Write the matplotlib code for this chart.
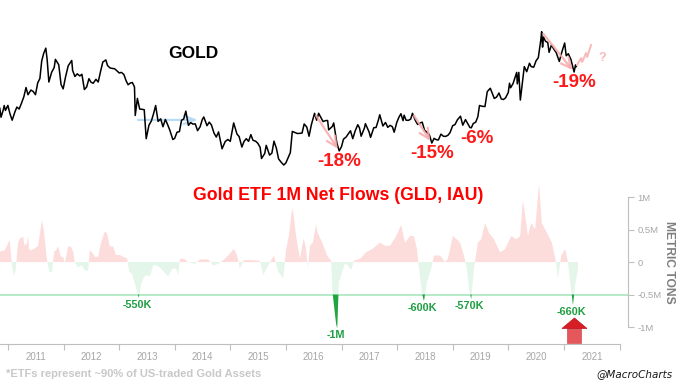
import numpy as np
import pandas as pd
import matplotlib
matplotlib.use("Agg")
import matplotlib.pyplot as plt
import matplotlib.transforms as mtransforms
from matplotlib.patches import Polygon

plt.rcParams['font.family'] = ['Liberation Sans', 'DejaVu Sans']

# ---- gold price (semi-monthly closes + swing points), USD/oz ----
gold_dates = [
    "2010-11-08", "2010-11-16", "2010-11-30", "2010-12-07", "2010-12-15", "2010-12-31",
    "2011-01-14", "2011-01-28", "2011-02-15", "2011-02-28", "2011-03-15", "2011-03-31",
    "2011-04-15", "2011-04-29", "2011-05-12", "2011-05-31", "2011-06-15", "2011-06-30",
    "2011-07-15", "2011-07-29", "2011-08-10", "2011-08-23", "2011-09-06", "2011-09-15",
    "2011-09-26", "2011-10-14", "2011-10-31", "2011-11-08", "2011-11-30", "2011-12-15",
    "2011-12-29", "2012-01-13", "2012-01-31", "2012-02-23", "2012-02-29", "2012-03-15",
    "2012-03-30", "2012-04-16", "2012-04-30", "2012-05-16", "2012-05-31", "2012-06-15",
    "2012-06-29", "2012-07-13", "2012-07-31", "2012-08-15", "2012-08-31", "2012-09-14",
    "2012-10-04", "2012-10-15", "2012-10-31", "2012-11-15", "2012-11-30", "2012-12-14",
    "2012-12-31", "2013-01-15", "2013-01-31", "2013-02-15", "2013-02-28", "2013-03-15",
    "2013-03-28", "2013-04-11", "2013-04-16", "2013-04-30", "2013-05-15", "2013-05-31",
    "2013-06-14", "2013-06-27", "2013-07-15", "2013-07-31", "2013-08-15", "2013-08-28",
    "2013-09-13", "2013-09-30", "2013-10-15", "2013-10-31", "2013-11-15", "2013-11-29",
    "2013-12-19", "2013-12-31", "2014-01-15", "2014-01-31", "2014-02-14", "2014-02-28",
    "2014-03-14", "2014-03-31", "2014-04-15", "2014-04-30", "2014-05-15", "2014-05-30",
    "2014-06-16", "2014-06-30", "2014-07-10", "2014-07-31", "2014-08-15", "2014-08-29",
    "2014-09-15", "2014-09-30", "2014-10-15", "2014-10-31", "2014-11-07", "2014-11-28",
    "2014-12-15", "2014-12-31", "2015-01-15", "2015-01-22", "2015-02-13", "2015-02-27",
    "2015-03-17", "2015-03-31", "2015-04-15", "2015-04-30", "2015-05-15", "2015-05-29",
    "2015-06-15", "2015-06-30", "2015-07-15", "2015-07-24", "2015-08-14", "2015-08-24",
    "2015-09-15", "2015-09-30", "2015-10-14", "2015-10-30", "2015-11-13", "2015-11-30",
    "2015-12-17", "2015-12-31", "2016-01-15", "2016-01-29", "2016-02-11", "2016-02-29",
    "2016-03-15", "2016-03-31", "2016-04-15", "2016-04-29", "2016-05-16", "2016-05-31",
    "2016-06-15", "2016-06-24", "2016-07-06", "2016-07-20", "2016-08-02", "2016-08-31",
    "2016-09-15", "2016-09-30", "2016-10-07", "2016-10-31", "2016-11-09", "2016-11-30",
    "2016-12-15", "2016-12-30", "2017-01-13", "2017-01-31", "2017-02-15", "2017-02-28",
    "2017-03-15", "2017-03-31", "2017-04-17", "2017-04-28", "2017-05-09", "2017-05-31",
    "2017-06-06", "2017-06-30", "2017-07-10", "2017-07-31", "2017-08-15", "2017-08-31",
    "2017-09-08", "2017-09-29", "2017-10-16", "2017-10-31", "2017-11-15", "2017-11-30",
    "2017-12-12", "2017-12-29", "2018-01-12", "2018-01-25", "2018-02-08", "2018-02-15",
    "2018-02-28", "2018-03-15", "2018-03-30", "2018-04-11", "2018-04-30", "2018-05-15",
    "2018-05-31", "2018-06-14", "2018-06-29", "2018-07-13", "2018-07-31", "2018-08-16",
    "2018-08-31", "2018-09-14", "2018-09-28", "2018-10-15", "2018-10-31", "2018-11-15",
    "2018-11-30", "2018-12-14", "2018-12-31", "2019-01-15", "2019-01-31", "2019-02-20",
    "2019-02-28", "2019-03-07", "2019-03-25", "2019-04-23", "2019-05-02", "2019-05-15",
    "2019-05-31", "2019-06-14", "2019-06-25", "2019-07-15", "2019-07-31", "2019-08-15",
    "2019-09-04", "2019-09-30", "2019-10-15", "2019-10-31", "2019-11-15", "2019-11-29",
    "2019-12-13", "2019-12-31", "2020-01-08", "2020-01-15", "2020-01-31", "2020-02-24",
    "2020-02-28", "2020-03-09", "2020-03-19", "2020-03-31", "2020-04-14", "2020-04-30",
    "2020-05-18", "2020-05-29", "2020-06-15", "2020-06-30", "2020-07-15", "2020-07-31",
    "2020-08-06", "2020-08-12", "2020-08-18", "2020-08-31", "2020-09-15", "2020-09-24",
    "2020-10-09", "2020-10-30", "2020-11-09", "2020-11-30", "2020-12-15", "2021-01-05",
    "2021-01-15", "2021-01-29", "2021-02-15", "2021-02-26", "2021-03-08", "2021-03-17",
    "2021-03-22",
]
gold_px = [
    1400, 1338, 1386, 1420, 1385, 1421,
    1360, 1318, 1375, 1409, 1395, 1439,
    1486, 1556, 1500, 1536, 1525, 1500,
    1594, 1628, 1780, 1850, 1900, 1790,
    1600, 1680, 1722, 1795, 1746, 1580,
    1545, 1640, 1738, 1785, 1696, 1645,
    1668, 1650, 1664, 1540, 1560, 1627,
    1598, 1590, 1622, 1600, 1692, 1770,
    1790, 1740, 1719, 1714, 1712, 1696,
    1675, 1680, 1663, 1610, 1578, 1592,
    1596, 1560, 1350, 1472, 1395, 1393,
    1390, 1200, 1285, 1313, 1365, 1420,
    1310, 1327, 1275, 1323, 1288, 1253,
    1195, 1202, 1240, 1244, 1318, 1326,
    1380, 1284, 1302, 1292, 1294, 1250,
    1275, 1322, 1340, 1282, 1305, 1287,
    1235, 1210, 1242, 1172, 1140, 1183,
    1195, 1184, 1264, 1300, 1228, 1213,
    1150, 1183, 1200, 1184, 1225, 1190,
    1185, 1172, 1148, 1085, 1113, 1160,
    1104, 1115, 1185, 1142, 1083, 1065,
    1050, 1061, 1090, 1118, 1245, 1238,
    1232, 1233, 1235, 1293, 1273, 1215,
    1287, 1320, 1365, 1318, 1365, 1309,
    1315, 1316, 1255, 1277, 1300, 1173,
    1128, 1152, 1197, 1211, 1232, 1249,
    1200, 1249, 1288, 1268, 1215, 1268,
    1295, 1242, 1208, 1269, 1270, 1322,
    1355, 1280, 1303, 1271, 1284, 1275,
    1240, 1303, 1338, 1362, 1315, 1352,
    1318, 1317, 1325, 1365, 1316, 1290,
    1299, 1305, 1253, 1241, 1224, 1174,
    1202, 1194, 1192, 1228, 1215, 1214,
    1221, 1238, 1282, 1289, 1321, 1345,
    1313, 1285, 1322, 1270, 1268, 1296,
    1305, 1341, 1420, 1414, 1413, 1524,
    1550, 1472, 1482, 1513, 1468, 1464,
    1476, 1517, 1590, 1554, 1587, 1680,
    1585, 1680, 1460, 1577, 1730, 1686,
    1760, 1730, 1725, 1781, 1810, 1975,
    2065, 1910, 2010, 1968, 1955, 1860,
    1930, 1879, 1860, 1776, 1855, 1950,
    1828, 1847, 1794, 1734, 1683, 1745,
    1730,
]

# ---- GLD + IAU rolling 1M net flows (millions), by decimal year ----
flow_year = [
    2010.85, 2010.94, 2011.03, 2011.07, 2011.11, 2011.14, 2011.18, 2011.21, 2011.27, 2011.30,
    2011.34, 2011.36, 2011.38, 2011.41, 2011.48, 2011.54, 2011.57, 2011.61, 2011.65, 2011.66,
    2011.70, 2011.74, 2011.79, 2011.83, 2011.86, 2011.90, 2011.95, 2011.99, 2012.02, 2012.08,
    2012.13, 2012.17, 2012.20, 2012.26, 2012.33, 2012.38, 2012.44, 2012.47, 2012.51, 2012.56,
    2012.62, 2012.67, 2012.74, 2012.78, 2012.83, 2012.89, 2012.94, 2013.01, 2013.07, 2013.14,
    2013.18, 2013.23, 2013.27, 2013.32, 2013.35, 2013.39, 2013.43, 2013.48, 2013.55, 2013.61,
    2013.66, 2013.73, 2013.88, 2013.95, 2014.02, 2014.06, 2014.09, 2014.16, 2014.24, 2014.36,
    2014.45, 2014.60, 2014.69, 2014.78, 2014.90, 2015.01, 2015.06, 2015.12, 2015.17, 2015.24,
    2015.39, 2015.53, 2015.59, 2015.68, 2015.78, 2015.86, 2015.95, 2016.00, 2016.05, 2016.11,
    2016.14, 2016.18, 2016.25, 2016.29, 2016.32, 2016.36, 2016.39, 2016.43, 2016.48, 2016.54,
    2016.57, 2016.65, 2016.74, 2016.81, 2016.84, 2016.90, 2016.92, 2016.95, 2016.99, 2017.06,
    2017.11, 2017.17, 2017.22, 2017.33, 2017.44, 2017.55, 2017.69, 2017.78, 2017.87, 2017.98,
    2018.07, 2018.14, 2018.23, 2018.30, 2018.355, 2018.39, 2018.45, 2018.48, 2018.535, 2018.61,
    2018.66, 2018.77, 2018.86, 2018.91, 2019.00, 2019.07, 2019.13, 2019.20, 2019.25, 2019.29,
    2019.33, 2019.38, 2019.45, 2019.51, 2019.58, 2019.65, 2019.74, 2019.85, 2019.94, 2020.05,
    2020.14, 2020.21, 2020.26, 2020.32, 2020.35, 2020.41, 2020.48, 2020.55, 2020.60, 2020.69,
    2020.78, 2020.855, 2020.89, 2020.95, 2021.02, 2021.07, 2021.11, 2021.16, 2021.20, 2021.25,
]
flow_m = [
    0.16, 0.18, 0.34, -0.05, -0.22, -0.10, 0.30, 0.36, 0.39, 0.25,
    0.29, 0.39, 0.20, 0.18, 0.21, 0.25, 0.42, 0.65, 0.45, 0.36,
    0.03, -0.15, -0.15, 0.16, 0.18, 0.24, 0.08, 0.08, -0.02, 0.24,
    0.24, 0.16, 0.00, -0.08, -0.05, -0.13, -0.13, 0.18, 0.15, 0.08,
    0.08, 0.29, 0.47, 0.44, 0.24, 0.24, 0.11, 0.11, 0.08, 0.06,
    -0.15, -0.18, -0.30, -0.45, -0.55, -0.35, -0.25, -0.20, -0.22, -0.05,
    -0.05, -0.08, -0.22, -0.10, -0.10, -0.20, 0.05, 0.05, 0.00, -0.03,
    0.04, 0.04, -0.05, -0.03, 0.05, 0.15, 0.20, 0.10, -0.10, 0.03,
    0.03, 0.02, -0.20, -0.05, 0.10, -0.15, -0.25, 0.20, 0.40, 0.83,
    0.70, 0.40, 0.05, 0.25, 0.36, 0.20, -0.10, 0.25, 0.30, 0.57,
    0.45, 0.30, 0.10, 0.02, -0.50, -0.95, -1.02, -0.30, -0.20, -0.02,
    -0.05, -0.12, 0.02, 0.05, 0.15, 0.20, 0.30, 0.25, 0.25, 0.40,
    0.57, 0.30, 0.40, 0.40, 0.20, -0.10, -0.50, -0.60, -0.30, -0.10,
    0.10, 0.10, 0.00, 0.05, 0.40, 0.35, 0.30, 0.10, -0.10, -0.40,
    -0.57, -0.10, 0.30, 0.35, 0.60, 0.45, 0.35, 0.15, 0.20, 0.40,
    0.35, 0.40, 0.95, 0.60, 0.40, 0.60, 0.50, 1.21, 0.60, 0.45,
    0.30, 0.00, -0.25, 0.10, 0.20, 0.00, -0.30, -0.66, -0.35, -0.10,
]

threshold = -0.5
dip_years = [2013.35, 2016.92, 2018.48, 2019.33, 2021.16]
dip_labels = ["-550K", "-1M", "-600K", "-570K", "-660K"]

# drawdowns on the gold chart
dd_peaks = ["2016-07-06", "2018-04-11", "2020-08-06"]
dd_lows = ["2016-12-15", "2018-08-16", "2021-03-08"]
dd_labels = ["-18%", "-15%", "-19%"]
small_dd_low = "2019-05-02"
small_dd_label = "-6%"

year_ticks = list(range(2011, 2023))
flow_ticks = [1, 0.5, 0, -0.5, -1]
flow_tick_labels = ["1M", "0.5M", "0", "-0.5M", "-1M"]


def dec_year(dates):
    d = pd.to_datetime(pd.Series(dates))
    return (d.dt.year + (d.dt.dayofyear - 1) / 365.25).to_numpy()


gold_t = dec_year(gold_dates)
gold_p = np.array(gold_px, dtype=float)
flow_t = np.array(flow_year)
flow_v = np.array(flow_m)

W, H = 680, 383
fig = plt.figure(figsize=(W / 100, H / 100), dpi=100)
fig.patch.set_facecolor('white')


def px_box(x0, y0, x1, y1):  # pixel box, origin top-left
    return [x0 / W, 1 - y1 / H, (x1 - x0) / W, (y1 - y0) / H]


x_lo, x_hi = 2010.855, 2010.855 + 628 / 55.6

# ---------------- top: gold ----------------
ax_top = fig.add_axes(px_box(0, 0, 628, 175))
ax_top.semilogy(gold_t, gold_p, color='black', lw=1.1, zorder=3)
ax_top.set_xlim(x_lo, x_hi)
ax_top.set_ylim(998, 2426)
ax_top.axis('off')

pink = '#f7a9a9'
for pk, lo, lab in zip(dd_peaks, dd_lows, dd_labels):
    i_pk = np.argmin(np.abs(gold_t - dec_year([pk])[0]))
    i_lo = np.argmin(np.abs(gold_t - dec_year([lo])[0]))
    ax_top.annotate('', xy=(gold_t[i_lo], gold_p[i_lo]), xytext=(gold_t[i_pk], gold_p[i_pk]),
                    arrowprops=dict(arrowstyle='->,head_length=0.7,head_width=0.35',
                                    color=pink, lw=1.6, alpha=0.85), zorder=4)
    ax_top.annotate(lab, xy=(gold_t[i_lo], gold_p[i_lo]), xytext=(0, -7.5),
                    textcoords='offset points', ha='center', va='center',
                    color='#ff1a1a', fontsize=13.5, fontweight='bold', zorder=5)

i6 = np.argmin(np.abs(gold_t - dec_year([small_dd_low])[0]))
ax_top.annotate(small_dd_label, xy=(gold_t[i6], gold_p[i6]), xytext=(4, -7.5),
                textcoords='offset points', ha='center', va='center',
                color='#ff1a1a', fontsize=13.5, fontweight='bold', zorder=5)

# light blue range arrow (2013-2014)
ax_top.annotate('', xy=(dec_year(["2014-06-20"])[0], 1320), xytext=(dec_year(["2013-04-16"])[0], 1320),
                arrowprops=dict(arrowstyle='->,head_length=0.8,head_width=0.3',
                                color='#b9dcf6', lw=1.6), zorder=2)

# "what next" zigzag after the last low
i_last = np.argmin(np.abs(gold_t - dec_year([dd_lows[-1]])[0]))
anchor = fig.dpi_scale_trans + mtransforms.ScaledTranslation(gold_t[i_last], gold_p[i_last], ax_top.transData)
zz_x = [0.03, 0.07, 0.08, 0.12, 0.13, 0.17]
zz_y = [0.07, 0.14, 0.10, 0.19, 0.15, 0.27]
ax_top.plot(zz_x, zz_y, color='#f9b9b9', lw=1.4, transform=anchor, clip_on=False, zorder=4)
ax_top.text(0.28, 0.14, '?', transform=anchor, color='#f9b9b9', fontsize=9,
            fontweight='bold', ha='center', va='center')

fig.text(193 / W, 1 - 53 / H, 'GOLD', ha='center', va='center', fontsize=12.5,
         fontweight='bold', color='black')

# ---------------- bottom: ETF flows ----------------
ax = fig.add_axes(px_box(0, 185, 628, 344))
ax.set_xlim(x_lo, x_hi)
ax.set_ylim(-1.26, 1.185)
ax.set_facecolor('none')

ax.fill_between(flow_t, flow_v, 0, where=flow_v >= 0, interpolate=True,
                color='#fddcdc', lw=0)
ax.fill_between(flow_t, flow_v, 0, where=flow_v <= 0, interpolate=True,
                color='#e4f5e9', lw=0)
ax.fill_between(flow_t, flow_v, threshold, where=flow_v <= threshold, interpolate=True,
                color='#1fa540', lw=0, zorder=3)
ax.axhline(threshold, color='#a9e6bd', lw=1.2, zorder=2)

for yr, lab in zip(dip_years, dip_labels):
    j = np.argmin(np.abs(flow_t - yr))
    ax.annotate(lab, xy=(flow_t[j], flow_v[j]), xytext=(-1, -5), textcoords='offset points',
                ha='center', va='center', color='#1f9e43', fontsize=7.8,
                fontweight='bold', zorder=5)

# red up arrow under the latest dip
j = np.argmin(np.abs(flow_t - dip_years[-1]))
arr_tr = fig.dpi_scale_trans + mtransforms.ScaledTranslation(flow_t[j], flow_v[j], ax.transData)
head = Polygon([(0.015, -0.13), (0.14, -0.235), (-0.11, -0.235)], closed=True,
               facecolor='#d81e25', edgecolor='#b5161c', lw=0.5, transform=arr_tr, clip_on=False)
shaft = Polygon([(-0.055, -0.235), (0.085, -0.235), (0.085, -0.38), (-0.055, -0.38)], closed=True,
                facecolor='#e4575b', edgecolor='#d84b50', lw=0.5, transform=arr_tr, clip_on=False)
ax.add_patch(shaft)
ax.add_patch(head)

for s in ['top', 'left']:
    ax.spines[s].set_visible(False)
ax.spines['bottom'].set_color('#bfbfbf')
ax.spines['bottom'].set_bounds(x_lo, 2022.0)
ax.spines['right'].set_color('#bfbfbf')
ax.spines['right'].set_bounds(-1, 1)

ax.yaxis.tick_right()
ax.set_yticks(flow_ticks)
ax.set_yticklabels(flow_tick_labels)
ax.tick_params(axis='y', direction='out', length=4, color='#bfbfbf', pad=3,
               labelsize=6.8, labelcolor='#a6a6a6')

ax.set_xticks(year_ticks)
ax.set_xticklabels([])
ax.set_xticks([y + 0.5 for y in year_ticks[:-1]], minor=True)
ax.set_xticklabels([str(y) for y in year_ticks[:-1]], minor=True)
ax.tick_params(axis='x', which='major', direction='out', length=4, color='#bfbfbf')
ax.tick_params(axis='x', which='minor', length=0, pad=6, labelsize=7, labelcolor='#a6a6a6')

fig.text(669 / W, 1 - 262 / H, 'METRIC TONS', rotation=-90, ha='center', va='center',
         fontsize=8.7, fontweight='bold', color='#7f7f7f')
fig.text(338 / W, 1 - 196 / H, 'Gold ETF 1M Net Flows (GLD, IAU)', ha='center', va='center',
         fontsize=12.7, fontweight='bold', color='#ff0000')
fig.text(6 / W, 1 - 374 / H, '*ETFs represent ~90% of US-traded Gold Assets', ha='left',
         va='center', fontsize=8, fontweight='bold', color='#c8c8c8')
fig.text(673 / W, 1 - 374 / H, '@MacroCharts', ha='right', va='center', fontsize=7.5,
         style='italic', color='#1a1a1a', family='DejaVu Sans')

fig.savefig('out.png', dpi=100)
